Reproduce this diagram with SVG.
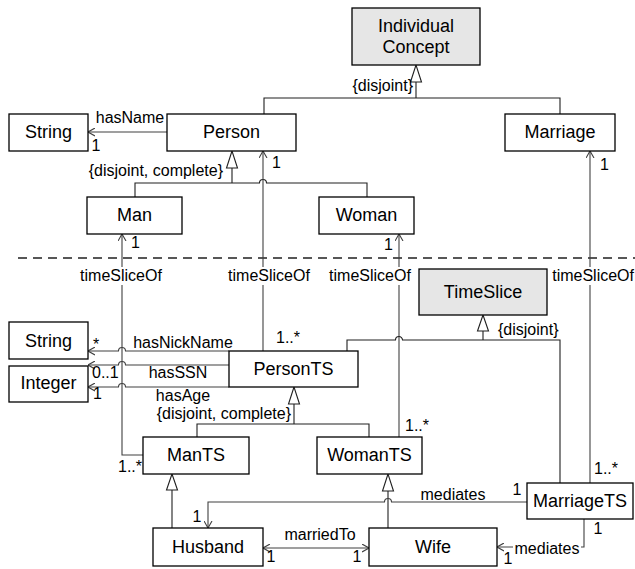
<svg xmlns="http://www.w3.org/2000/svg" width="635" height="569" viewBox="0 0 635 569">
<style>
.box{fill:#fff;stroke:#000;stroke-width:1.3}
.abs{fill:#e6e6e6;stroke:#000;stroke-width:1.3}
.nm{font-family:"Liberation Sans",Arial,sans-serif;font-size:18px;fill:#000;text-anchor:middle}
.lb{font-family:"Liberation Sans",Arial,sans-serif;font-size:16px;fill:#000}
.c{fill:none;stroke:#404040;stroke-width:1.1}
.g{fill:none;stroke:#202020;stroke-width:1.1}
.tri{fill:#fff;stroke:#202020;stroke-width:1.1}
.bg{fill:#fff}
.mid{text-anchor:middle}
.end{text-anchor:end}
</style>
<defs>
<marker id="open" viewBox="0 0 7 9" refX="7" refY="4.5" markerWidth="7" markerHeight="9" markerUnits="userSpaceOnUse" orient="auto-start-reverse">
<path d="M0,0.5 L7,4.5 L0,8.5" fill="none" stroke="#404040" stroke-width="1.1"/>
</marker>
</defs>
<rect width="635" height="569" fill="#fff"/>

<g id="connectors">
<!-- dashed separator -->
<path d="M18,258 H635" fill="none" stroke="#202020" stroke-width="1.3" stroke-dasharray="9,6"/>

<!-- IndividualConcept generalization -->
<path class="g" d="M264,114 V98 H560 V114 M416,98 V82"/>
<polygon class="tri" points="416,65 410.5,82 421.5,82"/>
<text class="lb end" x="413" y="91">{disjoint}</text>

<!-- Person generalization -->
<path class="g" d="M135,197 V183 H259.5 A3.5,3.5 0 0 1 266.5,183 H367 V197 M232,183 V168"/>
<polygon class="tri" points="232,151 226.5,168 237.5,168"/>
<text class="lb end" x="223" y="176">{disjoint, complete}</text>

<!-- hasName -->
<path class="c" d="M167,132 H88" marker-end="url(#open)"/>
<text class="lb mid" x="130" y="123">hasName</text>
<text class="lb mid" x="96" y="151">1</text>

<!-- timeSliceOf lines -->
<path class="c" d="M143,455 H122 V234" marker-end="url(#open)"/>
<path class="c" d="M263,351 V151" marker-end="url(#open)"/>
<path class="c" d="M399,437 V234" marker-end="url(#open)"/>
<path class="c" d="M590,483 V151" marker-end="url(#open)"/>
<rect class="bg" x="80" y="267" width="83" height="18"/>
<rect class="bg" x="227" y="267" width="84" height="18"/>
<rect class="bg" x="328" y="267" width="83" height="18"/>
<rect class="bg" x="551" y="267" width="84" height="18"/>
<text class="lb mid" x="121" y="281">timeSliceOf</text>
<text class="lb mid" x="269" y="281">timeSliceOf</text>
<text class="lb mid" x="370" y="281">timeSliceOf</text>
<text class="lb end" x="634" y="281">timeSliceOf</text>
<text class="lb" x="131" y="248">1</text>
<text class="lb end" x="142" y="472">1..*</text>
<text class="lb" x="272" y="168">1</text>
<text class="lb" x="276" y="343">1..*</text>
<text class="lb" x="384" y="250">1</text>
<text class="lb" x="405" y="431">1..*</text>
<text class="lb" x="600" y="170">1</text>
<text class="lb" x="594" y="474">1..*</text>

<!-- TimeSlice generalization -->
<path class="g" d="M347,351 V340 H395.5 A3.5,3.5 0 0 1 402.5,340 H560 V483 M483,340 V331"/>
<polygon class="tri" points="483,315 477.5,331 488.5,331"/>
<text class="lb" x="498" y="335">{disjoint}</text>

<!-- PersonTS attributes -->
<path class="c" d="M88,351 H118.5 A3.5,3.5 0 0 1 125.5,351 H229" marker-start="url(#open)"/>
<path class="c" d="M88,365 H118.5 A3.5,3.5 0 0 1 125.5,365 H229" marker-start="url(#open)"/>
<path class="c" d="M88,387 H118.5 A3.5,3.5 0 0 1 125.5,387 H229" marker-start="url(#open)"/>
<text class="lb mid" x="183" y="348">hasNickName</text>
<text class="lb mid" x="178" y="378">hasSSN</text>
<text class="lb mid" x="183" y="401">hasAge</text>
<text class="lb" x="93" y="350">*</text>
<text class="lb" x="92" y="378">0..1</text>
<text class="lb" x="93" y="399">1</text>

<!-- PersonTS generalization -->
<path class="g" d="M197,437 V424 H369 V437 M294,424 V404"/>
<polygon class="tri" points="294,387 288.5,404 299.5,404"/>
<text class="lb end" x="291" y="419">{disjoint, complete}</text>

<!-- ManTS / WomanTS specializations -->
<path class="g" d="M172,528 V490"/>
<polygon class="tri" points="172,474 166.5,490 177.5,490"/>
<path class="g" d="M388,528 V491"/>
<polygon class="tri" points="388,474 382.5,491 393.5,491"/>

<!-- mediates Husband -->
<path class="c" d="M527,502 H391.5 A3.5,3.5 0 0 0 384.5,502 H208 V528" marker-end="url(#open)"/>
<text class="lb mid" x="453" y="500">mediates</text>
<text class="lb mid" x="517" y="495">1</text>
<text class="lb mid" x="197" y="522">1</text>

<!-- mediates Wife -->
<path class="c" d="M584,519 V547 H497" marker-end="url(#open)"/>
<rect class="bg" x="513" y="539" width="68" height="17"/>
<text class="lb mid" x="547" y="554">mediates</text>
<text class="lb mid" x="598" y="534">1</text>
<text class="lb mid" x="508" y="564">1</text>

<!-- marriedTo -->
<path class="c" d="M263,548 H369" marker-start="url(#open)" marker-end="url(#open)"/>
<text class="lb mid" x="320" y="540">marriedTo</text>
<text class="lb mid" x="271" y="562">1</text>
<text class="lb mid" x="357" y="562">1</text>
</g>

<g id="IndividualConcept"><rect class="abs" x="352" y="8" width="128" height="57"/><text class="nm" x="416" y="32">Individual</text><text class="nm" x="416" y="53">Concept</text></g>
<g id="String1"><rect class="box" x="9" y="114" width="79" height="37"/><text class="nm" x="48.5" y="138">String</text></g>
<g id="Person"><rect class="box" x="167" y="114" width="129" height="37"/><text class="nm" x="231.5" y="138">Person</text></g>
<g id="Marriage"><rect class="box" x="505" y="114" width="110" height="37"/><text class="nm" x="560" y="138">Marriage</text></g>
<g id="Man"><rect class="box" x="87" y="197" width="95" height="37"/><text class="nm" x="134.5" y="221">Man</text></g>
<g id="Woman"><rect class="box" x="319" y="197" width="95" height="37"/><text class="nm" x="366.5" y="221">Woman</text></g>
<g id="TimeSlice"><rect class="abs" x="419" y="269" width="128" height="46"/><text class="nm" x="483" y="298">TimeSlice</text></g>
<g id="String2"><rect class="box" x="9" y="322" width="79" height="37"/><text class="nm" x="48.5" y="347">String</text></g>
<g id="Integer"><rect class="box" x="9" y="366" width="79" height="36"/><text class="nm" x="48.5" y="389">Integer</text></g>
<g id="PersonTS"><rect class="box" x="229" y="351" width="129" height="36"/><text class="nm" x="293.5" y="375">PersonTS</text></g>
<g id="ManTS"><rect class="box" x="143" y="437" width="106" height="37"/><text class="nm" x="196" y="461">ManTS</text></g>
<g id="WomanTS"><rect class="box" x="317" y="437" width="105" height="37"/><text class="nm" x="369.5" y="461">WomanTS</text></g>
<g id="MarriageTS"><rect class="box" x="527" y="483" width="106" height="36"/><text class="nm" x="580" y="507">MarriageTS</text></g>
<g id="Husband"><rect class="box" x="153" y="528" width="110" height="38"/><text class="nm" x="208" y="553">Husband</text></g>
<g id="Wife"><rect class="box" x="369" y="528" width="128" height="38"/><text class="nm" x="433" y="553">Wife</text></g>
</svg>
